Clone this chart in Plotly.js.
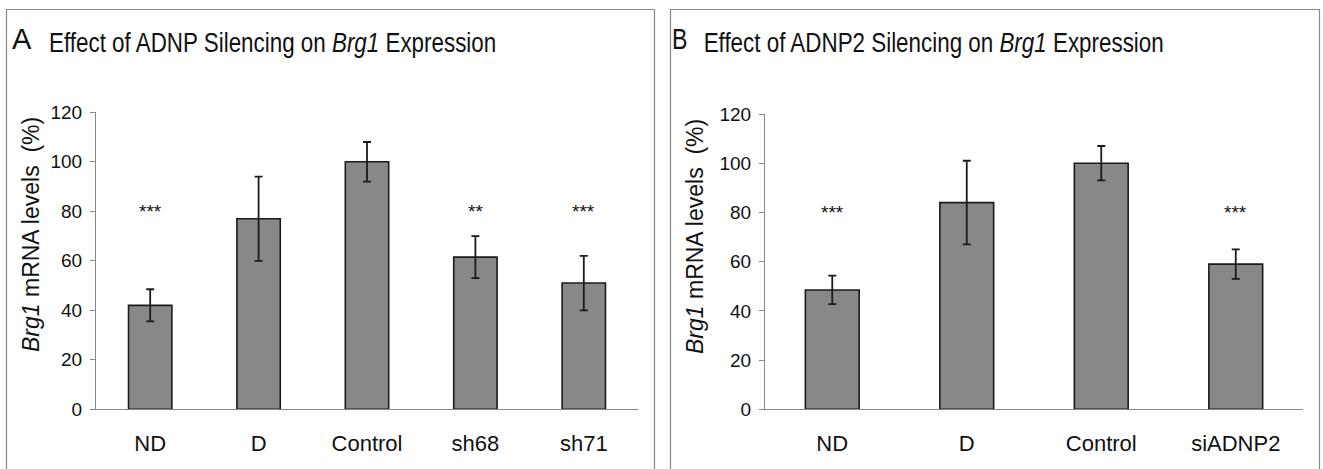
<!DOCTYPE html>
<html>
<head>
<meta charset="utf-8">
<script src="https://cdn.plot.ly/plotly-3.0.1.min.js"></script>
<style>html,body{margin:0;padding:0;background:#fff;}#chart{width:1323px;height:469px;}</style>
</head>
<body>
<div id="chart"></div>
<script>
// Panel A data
const catsA = ['ND', 'D', 'Control', 'sh68', 'sh71'];
const valsA = [42, 77, 100, 61.5, 51];
const errA = [6.5, 17, 8, 8.5, 11];
const starsA = ['***', '', '', '**', '***'];
// Panel B data
const catsB = ['ND', 'D', 'Control', 'siADNP2'];
const valsB = [48.5, 84, 100, 59];
const errB = [5.8, 17, 7, 6];
const starsB = ['***', '', '', '***'];
const starLevel = 80;
const yTicks = [0, 20, 40, 60, 80, 100, 120];

const W = 1323, H = 469;
const px = v => v / W, py = v => 1 - v / H;

const sans = '"Liberation Sans", Arial, sans-serif';

function barTrace(cats, vals, errs, xa, ya) {
  return {
    type: 'bar', x: cats, y: vals, xaxis: xa, yaxis: ya,
    marker: {color: '#888888', line: {color: '#1a1a1a', width: 1.6}},
    error_y: {type: 'data', array: errs, visible: true, color: '#1a1a1a', thickness: 1.8, width: 4},
    hoverinfo: 'none', showlegend: false
  };
}

const data = [barTrace(catsA, valsA, errA, 'x', 'y'), barTrace(catsB, valsB, errB, 'x2', 'y2')];

function starAnns(cats, stars, xr, yr) {
  return cats.map((c, i) => ({
    x: c, y: starLevel, xref: xr, yref: yr, text: stars[i], showarrow: false,
    font: {family: sans, size: 19, color: '#111'}, yanchor: 'middle', yshift: 0
  })).filter(a => a.text);
}

const yAxisCommon = {
  range: [0, 120], tickvals: yTicks, ticks: 'outside', ticklen: 5, tickwidth: 1, tickcolor: '#888',
  showline: true, linecolor: '#888', linewidth: 1, showgrid: false, zeroline: false,
  tickfont: {family: sans, size: 19, color: '#111'}, ticklabelstandoff: 4, fixedrange: true
};
const xAxisCommon = {
  type: 'category', showline: true, linecolor: '#888', linewidth: 1, ticks: '', showgrid: false,
  tickfont: {family: sans, size: 22, color: '#111'}, ticklabelstandoff: 14, fixedrange: true
};

const layout = {
  width: W, height: H, margin: {l: 0, r: 0, t: 0, b: 0},
  paper_bgcolor: '#fff', plot_bgcolor: '#fff', bargap: 0.6,
  xaxis: Object.assign({}, xAxisCommon, {domain: [px(96), px(638)], anchor: 'y'}),
  yaxis: Object.assign({}, yAxisCommon, {domain: [py(409.3), py(112.3)], anchor: 'x'}),
  xaxis2: Object.assign({}, xAxisCommon, {domain: [px(765), px(1303)], anchor: 'y2'}),
  yaxis2: Object.assign({}, yAxisCommon, {domain: [py(409.3), py(114)], anchor: 'x2'}),
  shapes: [
    {type: 'path', xref: 'paper', yref: 'paper', path: `M ${px(6.5)} 0 L ${px(6.5)} ${py(9.5)} L ${px(654.5)} ${py(9.5)} L ${px(654.5)} 0`, line: {color: '#8a8a8a', width: 1.2}},
    {type: 'path', xref: 'paper', yref: 'paper', path: `M ${px(670.5)} 0 L ${px(670.5)} ${py(9.5)} L ${px(1319.5)} ${py(9.5)} L ${px(1319.5)} 0`, line: {color: '#8a8a8a', width: 1.2}}
  ],
  annotations: [
    {xref: 'paper', yref: 'paper', x: px(22), y: py(39), text: 'A', showarrow: false, xanchor: 'center', yanchor: 'middle', font: {family: sans, size: 29, color: '#111'}},
    {xref: 'paper', yref: 'paper', x: px(272.5), y: py(43), text: 'Effect of ADNP Silencing on <i>Brg1</i> Expression', showarrow: false, xanchor: 'center', yanchor: 'middle', font: {family: sans, size: 28, color: '#111'}},
    {xref: 'paper', yref: 'paper', x: px(679), y: py(39), text: 'B', showarrow: false, xanchor: 'center', yanchor: 'middle', font: {family: sans, size: 29, color: '#111'}},
    {xref: 'paper', yref: 'paper', x: px(933.5), y: py(43), text: 'Effect of ADNP2 Silencing on <i>Brg1</i> Expression', showarrow: false, xanchor: 'center', yanchor: 'middle', font: {family: sans, size: 28, color: '#111'}},
    {xref: 'paper', yref: 'paper', x: px(31), y: py(235), text: '<i>Brg1</i> mRNA levels  (%)', textangle: -90, showarrow: false, xanchor: 'center', yanchor: 'middle', font: {family: sans, size: 23, color: '#111'}},
    {xref: 'paper', yref: 'paper', x: px(695), y: py(237), text: '<i>Brg1</i> mRNA levels  (%)', textangle: -90, showarrow: false, xanchor: 'center', yanchor: 'middle', font: {family: sans, size: 23, color: '#111'}}
  ].concat(starAnns(catsA, starsA, 'x', 'y'), starAnns(catsB, starsB, 'x2', 'y2'))
};

Plotly.newPlot('chart', data, layout, {displayModeBar: false, staticPlot: true}).then(() => {
  // condense the panel titles horizontally (the reference uses a narrow face)
  document.querySelectorAll('#chart .annotation-text').forEach(t => {
    const s = t.getAttribute('data-unformatted') || '';
    if (s.indexOf('Effect') === 0 || s === 'B') {
      const bb = t.getBBox();
      const cx = bb.x + bb.width / 2;
      t.setAttribute('transform', `translate(${cx},0) scale(0.8,1) translate(${-cx},0)`);
    }
  });
});
</script>
</body>
</html>
